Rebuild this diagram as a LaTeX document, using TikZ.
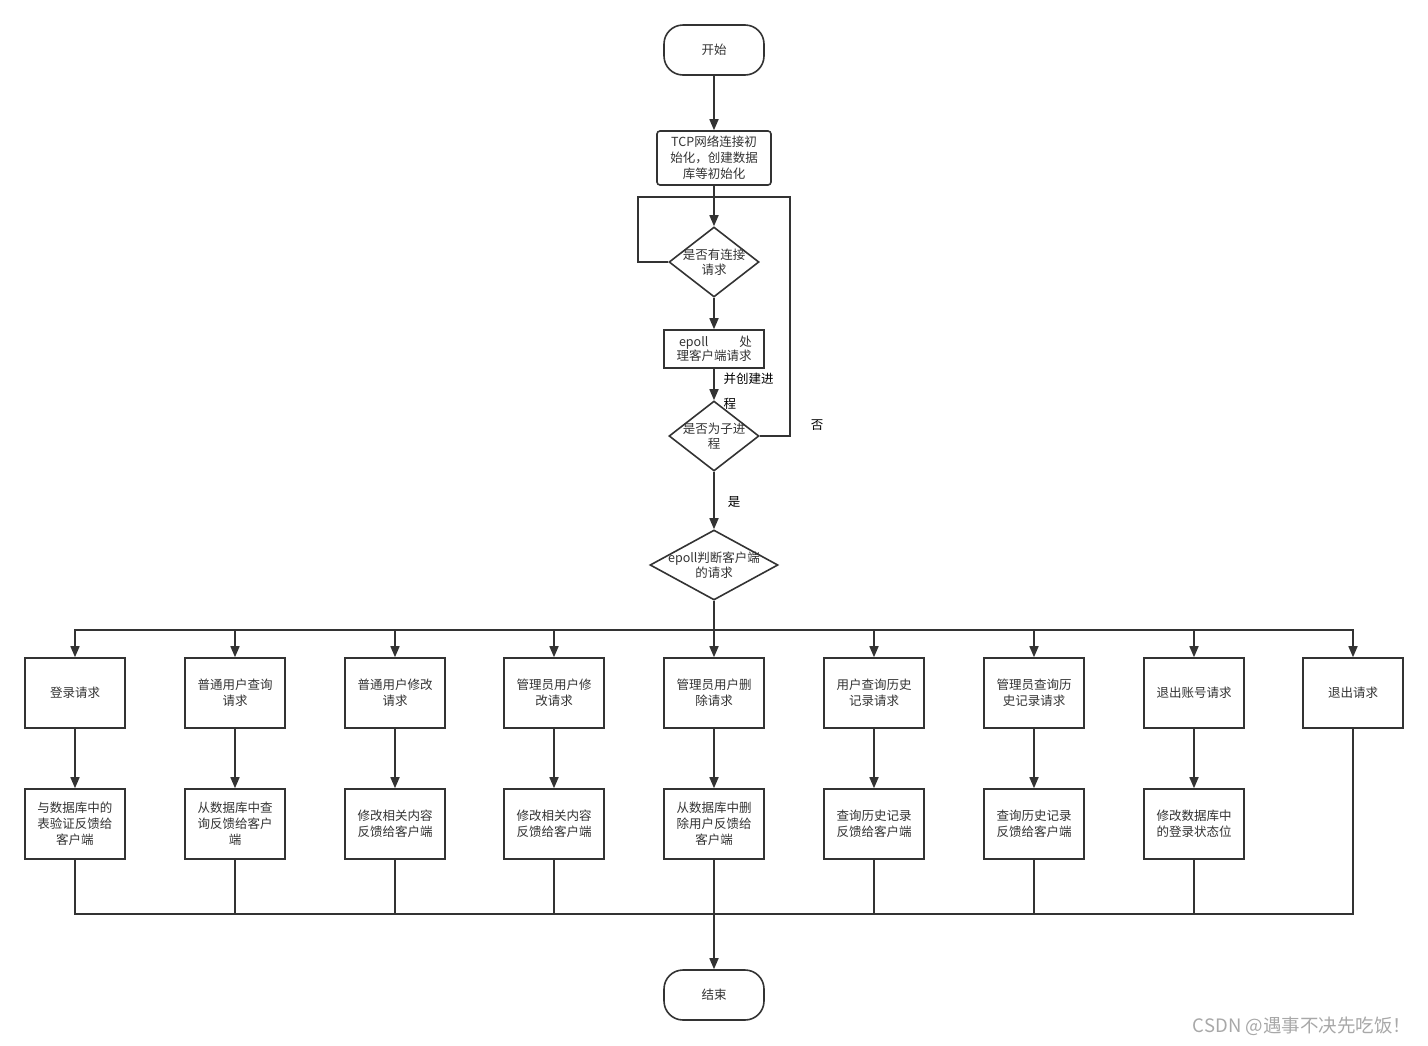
\documentclass[tikz,border=0pt]{standalone}
\usepackage{fontspec}
\setmainfont{Noto Sans CJK SC}
\usetikzlibrary{arrows.meta,shapes.geometric}
\definecolor{ln}{HTML}{333333}
\definecolor{tx}{HTML}{333333}
\definecolor{wm}{HTML}{A8A8A8}
\begin{document}
\begin{tikzpicture}[x=1pt,y=-1pt,
  every node/.style={font=\fontsize{12.5}{16}\selectfont, text=tx},
  line/.style={draw=ln, line width=1.6pt},
  arr/.style={line, -{Triangle[length=11pt,width=9pt]}},
  term/.style={draw=ln, line width=1.6pt, rectangle, rounded corners=19pt, minimum width=100pt, minimum height=50pt, inner sep=0pt, fill=white},
  proc/.style={draw=ln, line width=1.6pt, rectangle, minimum width=100pt, minimum height=70pt, inner sep=1pt, align=center, fill=white},
  dia/.style={draw=ln, line width=1.6pt, diamond, inner sep=0pt, minimum width=90pt, minimum height=70pt},
  lab/.style={text=black}
]
\useasboundingbox (0,0) rectangle (1428,1045);
% top part
\node[term] (start) at (714,50) {开始};
\node[proc, rounded corners=3pt, minimum width=114pt, minimum height=54pt] (tcp) at (714,158) {TCP网络连接初\\始化，创建数据\\库等初始化};
\node[dia] (d1) at (714,262) {};
\node[align=center] (t1) at (714,262) {是否有连接\\[-1pt]请求};
\node[proc, minimum height=38pt] (ep) at (714,349) {\makebox[76pt][s]{\hspace{3pt}epoll\hfill 处}\\[-2pt]理客户端请求};
\node[dia] (d2) at (714,436) {};
\node[align=center] (t2) at (714,436) {是否为子进\\[-1pt]程};
\node[dia, minimum width=128pt] (d3) at (714,565) {};
\node[align=center] (t3) at (714,565) {epoll判断客户端\\[-1pt]的请求};
\coordinate (j) at (714,197);

\draw[arr] (start) -- (tcp);
\draw[arr] (tcp.south) -- (d1.north);
\draw[line] (d1.west) -- ++(-30,0) |- (j);
\draw[arr] (d1.south) -- (ep.north);
\draw[arr] (ep.south) -- (d2.north);
\draw[line] (d2.east) -- ++(30,0) |- (j);
\draw[arr] (d2.south) -- (d3.north);
\node[lab, anchor=north west, align=left] (l1) at (720,369) {并创建进\\[9pt]程};
\node[lab] (l2) at (817,425) {否};
\node[lab] (l3) at (734,502) {是};

% rows
\node[proc] (r1) at (75,693) {登录请求};
\node[proc] (r2) at (235,693) {普通用户查询\\请求};
\node[proc] (r3) at (395,693) {普通用户修改\\请求};
\node[proc] (r4) at (554,693) {管理员用户修\\改请求};
\node[proc] (r5) at (714,693) {管理员用户删\\除请求};
\node[proc] (r6) at (874,693) {用户查询历史\\记录请求};
\node[proc] (r7) at (1034,693) {管理员查询历\\史记录请求};
\node[proc] (r8) at (1194,693) {退出账号请求};
\node[proc] (r9) at (1353,693) {退出请求};

\node[proc] (s1) at (75,824) {与数据库中的\\表验证反馈给\\客户端};
\node[proc] (s2) at (235,824) {从数据库中查\\询反馈给客户\\端};
\node[proc] (s3) at (395,824) {修改相关内容\\反馈给客户端};
\node[proc] (s4) at (554,824) {修改相关内容\\反馈给客户端};
\node[proc] (s5) at (714,824) {从数据库中删\\除用户反馈给\\客户端};
\node[proc] (s6) at (874,824) {查询历史记录\\反馈给客户端};
\node[proc] (s7) at (1034,824) {查询历史记录\\反馈给客户端};
\node[proc] (s8) at (1194,824) {修改数据库中\\的登录状态位};

\node[term] (end) at (714,995) {结束};
\coordinate (m) at (714,914);

\foreach \i in {1,...,9}{
  \draw[arr] (d3.south) -- ++(0,29) -| (r\i.north);
}
\foreach \i in {1,...,8}{
  \draw[arr] (r\i.south) -- (s\i.north);
  \draw[line] (s\i.south) |- (m);
}
\draw[line] (r9.south) |- (m);
\draw[arr] (m) -- (end.north);

\node[text=wm, font=\fontsize{18.5}{22}\selectfont] (wmk) at (1302,1026) {CSDN @遇事不决先吃饭！};
\end{tikzpicture}
\end{document}
